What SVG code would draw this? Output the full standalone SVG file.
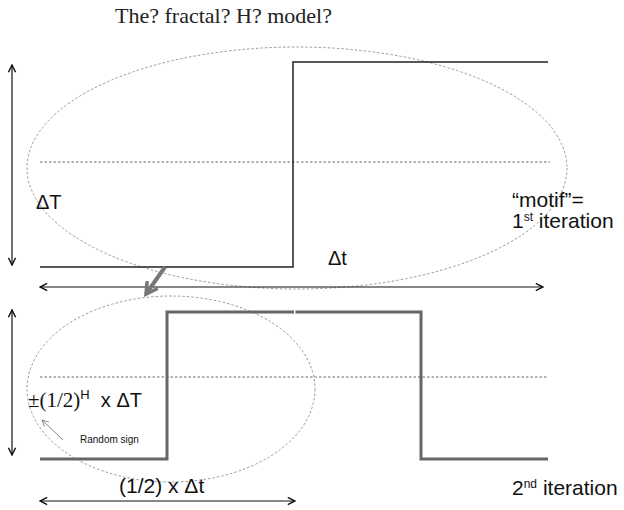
<svg xmlns="http://www.w3.org/2000/svg" width="624" height="510" viewBox="0 0 624 510">
<defs>
<marker id="v" viewBox="0 0 10 10" refX="9" refY="5" markerWidth="9" markerHeight="9" markerUnits="userSpaceOnUse" orient="auto-start-reverse">
<polyline points="1,1 9,5 1,9" fill="none" stroke="#111" stroke-width="1.6"/>
</marker>
<marker id="g" viewBox="0 0 10 10" refX="8" refY="5" markerWidth="4" markerHeight="4" orient="auto">
<polyline points="1,1 8,5 1,9" fill="none" stroke="#777" stroke-width="2.2"/>
</marker>
<marker id="s" viewBox="0 0 10 10" refX="9" refY="5" markerWidth="8" markerHeight="8" markerUnits="userSpaceOnUse" orient="auto">
<polyline points="1,1 9,5 1,9" fill="none" stroke="#777" stroke-width="1"/>
</marker>
</defs>
<style>
.t{font-family:"Liberation Sans",Arial,sans-serif;fill:#111}
.ser{font-family:"Liberation Serif","Times New Roman",serif}
.ax{stroke:#111;stroke-width:1.2;fill:none}
.el{fill:none;stroke:#999;stroke-width:1;stroke-dasharray:2.5,2}
.dot{stroke:#555;stroke-width:0.9;stroke-dasharray:2.5,2}
</style>
<rect width="624" height="510" fill="#fff"/>
<text x="115" y="23" class="ser" font-size="22" fill="#222" textLength="217" lengthAdjust="spacingAndGlyphs">The? fractal? H? model?</text>

<g id="motif">
<ellipse class="el" cx="297" cy="168" rx="270" ry="121"/>
<line class="dot" x1="40" y1="162" x2="550" y2="162"/>
<polyline points="40,267 293,267 293,62 548,62" fill="none" stroke="#222" stroke-width="1.5"/>
<text x="36" y="209" class="t" font-size="20">ΔT</text>
<text x="328" y="265" class="t" font-size="20">Δt</text>
<text x="512" y="207" class="t" font-size="21">“motif”=</text>
<text x="512" y="228" class="t" font-size="21">1<tspan font-size="12" dy="-7">st</tspan><tspan dy="7"> iteration</tspan></text>
</g>

<g id="iter2">
<ellipse class="el" cx="171" cy="389" rx="144" ry="93"/>
<line class="dot" x1="40" y1="377" x2="548" y2="377"/>
<polyline points="40,459 167,459 167,312 294,312" fill="none" stroke="#666" stroke-width="3"/>
<polyline points="295.5,312 421,312 421,459 548,459" fill="none" stroke="#666" stroke-width="3"/>
<text x="28" y="407" class="t" font-size="20"><tspan class="ser" font-size="21">±(1/2)</tspan><tspan font-size="13" dy="-8">H</tspan><tspan dy="8" xml:space="preserve">  x ΔT</tspan></text>
<text x="80" y="443" class="t" font-size="10">Random sign</text>
<text x="119" y="493" class="t" font-size="21">(1/2) x Δt</text>
<text x="512" y="495" class="t" font-size="21">2<tspan font-size="12" dy="-7">nd</tspan><tspan dy="7"> iteration</tspan></text>
</g>

<g id="connectors">
<line class="ax" x1="12" y1="65" x2="12" y2="265" marker-start="url(#v)" marker-end="url(#v)"/>
<line class="ax" x1="40" y1="287" x2="543" y2="287" marker-start="url(#v)" marker-end="url(#v)"/>
<line class="ax" x1="12" y1="310" x2="12" y2="455" marker-start="url(#v)" marker-end="url(#v)"/>
<line class="ax" x1="40" y1="501" x2="295" y2="501" marker-start="url(#v)" marker-end="url(#v)"/>
<line x1="165" y1="267" x2="146" y2="294" stroke="#777" stroke-width="4" marker-end="url(#g)"/>
<line x1="63" y1="440" x2="42" y2="420" stroke="#777" stroke-width="0.9" marker-end="url(#s)"/>
</g>
</svg>
